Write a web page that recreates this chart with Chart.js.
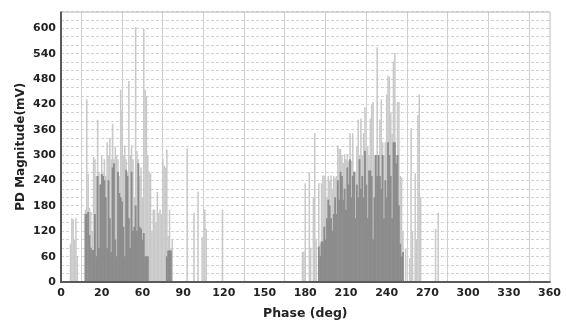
<!DOCTYPE html>
<html>
<head>
<meta charset="utf-8">
<script src="https://cdn.jsdelivr.net/npm/chart.js@4.4.1/dist/chart.umd.min.js"></script>
<style>
  html, body { margin: 0; padding: 0; background: #fff; }
  #wrap { width: 566px; height: 327px; }
</style>
</head>
<body>
<div id="wrap"><canvas id="prpd" width="566" height="327"></canvas></div>
<script>
// Phase-resolved PD pattern (1 deg bins)

const xTickLabels = ['0', '20', '60', '90', '120', '150', '180', '210', '240', '270', '300', '330', '360'];
const yLabelStep = 60;

// light grey bars (peak magnitudes)
const lightPhase = [
  7, 8, 9, 10, 11, 12,
  18, 19, 20, 21, 22, 23, 24, 25, 26, 27, 28, 29, 30, 31, 32, 33, 34, 35, 36, 37, 38, 39, 40,
  41, 42, 43, 44, 45, 46, 47, 48, 49, 50, 51, 52, 53, 54, 55, 56, 57, 58, 59, 60, 61, 62, 63,
  64, 65, 66, 67, 68, 69, 70, 71, 72, 73, 74, 75, 76, 77, 78, 79, 80, 81, 82,
  93, 98, 101, 104, 106, 107, 119,
  178, 179, 180, 183, 184, 186, 187, 188, 190, 191, 192, 193, 194, 195, 196, 197, 198, 199,
  200, 201, 202, 203, 204, 205, 206, 207, 208, 209, 210, 211, 212, 213, 214, 215, 216, 217,
  218, 219, 220, 221, 222, 223, 224, 225, 226, 227, 228, 229, 230, 231, 232, 233, 234, 235,
  236, 237, 238, 239, 240, 241, 242, 243, 244, 245, 246, 247, 248, 249, 250, 251, 252, 254,
  257, 258, 259, 261, 262, 263, 264, 265, 276, 278
];
const lightMag = [
  90, 150, 148, 100, 150, 60,
  170, 432, 255, 175, 165, 120, 295, 290, 250, 383, 260, 230, 300, 256, 290, 250, 330, 300, 340, 290, 374, 290, 320,
  300, 290, 250, 454, 406, 300, 323, 290, 260, 475, 300, 323, 290, 200, 603, 309, 290, 250, 270, 200, 598, 454, 440,
  300, 260, 256, 120, 171, 171, 140, 212, 163, 171, 160, 293, 275, 270, 313, 108, 170, 79, 100,
  316, 163, 213, 106, 171, 125, 171,
  71, 71, 233, 259, 80, 200, 351, 100, 233, 90, 233, 251, 251, 240, 200, 250, 240, 251,
  220, 250, 245, 250, 323, 314, 314, 300, 280, 302, 290, 302, 286, 351, 286, 351, 260, 260,
  320, 383, 300, 386, 300, 351, 413, 300, 320, 300, 386, 420, 425, 300, 230, 555, 300, 383,
  432, 330, 300, 330, 443, 487, 485, 400, 350, 521, 541, 300, 425, 425, 250, 247, 120, 78,
  56, 363, 120, 256, 100, 394, 443, 200, 125, 163
];

// dark grey bars (dense discharge body)
const darkPhase = [
  18, 19, 20, 21, 22, 23, 24, 25, 26, 27, 28, 29, 30, 31, 32, 33, 34, 35, 36, 37, 38, 39, 40,
  41, 42, 43, 44, 45, 46, 47, 48, 49, 50, 51, 52, 53, 54, 55, 56, 57, 58, 59, 60, 61, 62, 63, 64,
  78, 79, 80, 81,
  190, 191, 192, 193, 194, 195, 196, 197, 198, 199, 200, 201, 202, 203, 204, 205, 206, 207,
  208, 209, 210, 211, 212, 213, 214, 215, 216, 217, 218, 219, 220, 221, 222, 223, 224, 225,
  226, 227, 228, 229, 230, 231, 232, 233, 234, 235, 236, 237, 238, 239, 240, 241, 242, 243,
  244, 245, 246, 247, 248, 249, 250, 251, 252
];
const darkMag = [
  160, 160, 165, 110, 80, 75, 75, 160, 60, 250, 80, 230, 255, 250, 240, 200, 80, 240, 150, 70, 270, 280, 100,
  60, 260, 210, 200, 190, 130, 60, 265, 250, 150, 80, 260, 120, 130, 180, 120, 280, 130, 125, 100, 115, 60, 60, 60,
  60, 74, 74, 74,
  83, 60, 95, 95, 130, 100, 150, 194, 180, 150, 120, 160, 200, 160, 240, 194, 260, 250,
  194, 220, 170, 270, 230, 290, 200, 250, 260, 150, 230, 200, 290, 220, 250, 200, 310, 230,
  150, 263, 263, 250, 100, 200, 300, 250, 300, 250, 220, 300, 150, 240, 200, 330, 300, 250,
  150, 330, 330, 280, 300, 180, 90, 60, 70
];

const toPoints = (xs, ys) => xs.map((x, i) => ({ x: x, y: ys[i] }));

const FONT = "'DejaVu Sans', Verdana, sans-serif";

// frame round the plot: dark left/bottom axis, light top/right edge
const framePlugin = {
  id: 'frame',
  afterDraw(chart) {
    const { ctx, chartArea: a } = chart;
    ctx.save();
    ctx.lineWidth = 1;
    ctx.strokeStyle = '#bdbdbd';
    ctx.beginPath();
    ctx.moveTo(a.left, a.top + 0.5);
    ctx.lineTo(a.right + 0.5, a.top + 0.5);
    ctx.lineTo(a.right + 0.5, a.bottom);
    ctx.stroke();
    ctx.lineWidth = 2;
    ctx.strokeStyle = '#5a5a5a';
    ctx.beginPath();
    ctx.moveTo(a.left, a.top);
    ctx.lineTo(a.left, a.bottom);
    ctx.lineTo(a.right + 1, a.bottom);
    ctx.stroke();
    ctx.restore();
  }
};

new Chart(document.getElementById('prpd'), {
  type: 'bar',
  data: {
    datasets: [
      {
        label: 'dark',
        data: toPoints(darkPhase, darkMag),
        backgroundColor: '#8c8c8c',
        barThickness: 1.2,
        grouped: false
      },
      {
        label: 'light',
        data: toPoints(lightPhase, lightMag),
        backgroundColor: '#c9c9c9',
        barThickness: 0.9,
        grouped: false
      }
    ]
  },
  options: {
    responsive: false,
    animation: false,
    devicePixelRatio: 1,
    layout: { padding: { left: 0, right: 14, top: 7, bottom: 0 } },
    plugins: {
      legend: { display: false },
      tooltip: { enabled: false }
    },
    scales: {
      x: {
        type: 'linear',
        min: 0,
        max: 360,
        offset: false,
        afterFit: s => { s.height = 45; },
        ticks: {
          stepSize: 30,
          autoSkip: false,
          maxRotation: 0,
          padding: 5,
          color: '#222',
          font: { family: FONT, size: 11, weight: 'bold' },
          callback: v => xTickLabels[Math.round(v / 30)]
        },
        grid: { color: '#cfcfcf', lineWidth: 1, drawTicks: false },
        border: { display: false },
        title: {
          display: true,
          text: 'Phase (deg)',
          color: '#222',
          font: { family: FONT, size: 12.5, weight: 'bold' },
          padding: { top: 0, bottom: 6 }
        }
      },
      y: {
        min: 0,
        max: 640,
        afterFit: s => { s.width = 61; },
        ticks: {
          stepSize: 20,
          autoSkip: false,
          padding: 5,
          color: '#222',
          font: { family: FONT, size: 11, weight: 'bold' },
          callback: v => (v % yLabelStep === 0 ? v : '')
        },
        grid: { color: '#d2d2d2', lineWidth: 1, drawTicks: false },
        border: { display: false, dash: [3, 2] },
        title: {
          display: true,
          text: 'PD Magnitude(mV)',
          color: '#222',
          font: { family: FONT, size: 12, weight: 'bold' },
          padding: { top: 14, bottom: 0 }
        }
      }
    }
  },
  plugins: [framePlugin]
});
</script>
</body>
</html>
